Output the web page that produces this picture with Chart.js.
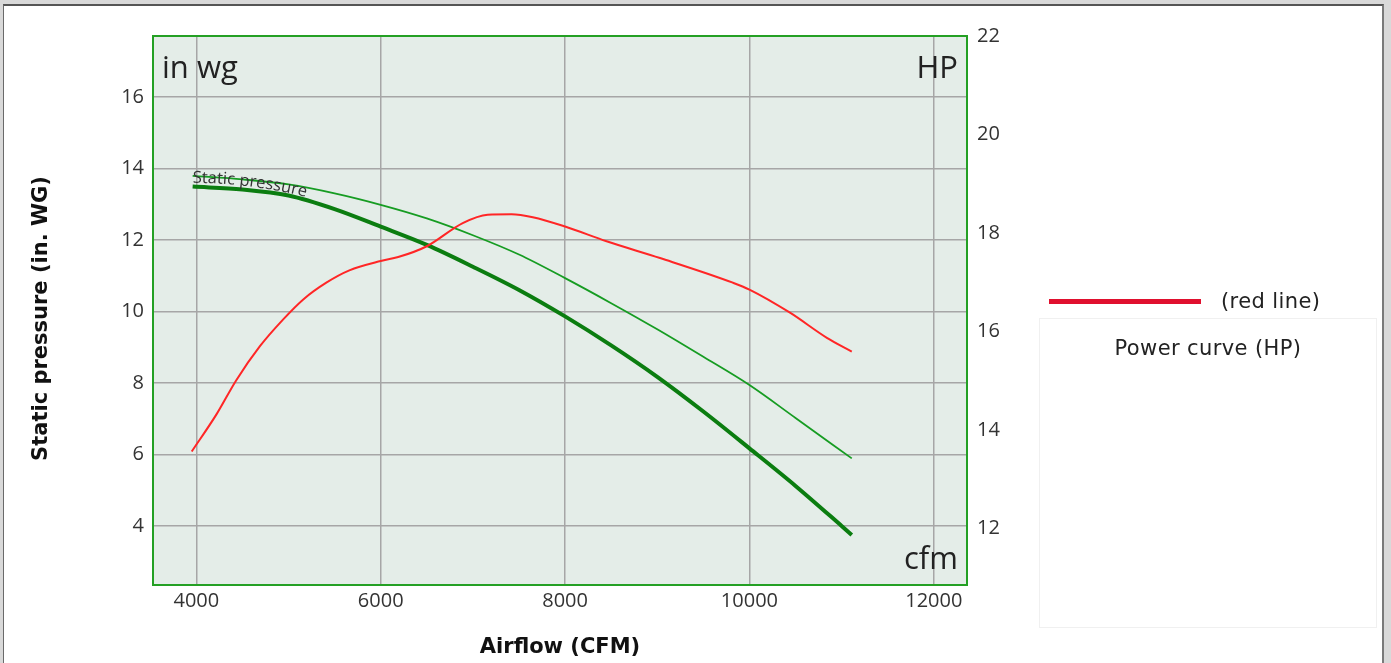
<!DOCTYPE html>
<html>
<head>
<meta charset="utf-8">
<script src="https://cdn.jsdelivr.net/npm/chart.js@4/dist/chart.umd.min.js"></script>
<style>
  html, body { margin:0; padding:0; background:#d9d9d9; overflow:hidden; width:1391px; height:663px; }
  #panel { position:absolute; left:3px; top:4px; width:1378px; height:700px; background:#fff;
           border-left:1px solid #6a6a6a; border-top:2px solid #555; border-right:2px solid #7a7a7a; }
  #wrap { position:absolute; left:0; top:0; width:1391px; height:663px; }
  .lg-line { position:absolute; left:1049px; top:299px; width:152px; height:5px; background:#e0102e; }
  .lg-text { position:absolute; left:1221px; top:289px; font:21px 'DejaVu Sans', sans-serif; letter-spacing:0.4px; color:#222; line-height:24px; white-space:nowrap; }
  .lg-box { position:absolute; left:1039px; top:318px; width:338px; height:310px; border:1px solid #f0f0f0;
            box-sizing:border-box; text-align:center; padding-top:17px; font:21px 'DejaVu Sans', sans-serif; letter-spacing:0.4px; color:#222; line-height:24px; }
</style>
</head>
<body>
<div id="panel"></div>
<div id="wrap"><canvas id="c" width="1391" height="663"></canvas></div>
<div class="lg-line"></div>
<div class="lg-text">(red line)</div>
<div class="lg-box">Power curve (HP)</div>
<script>
// ---- data ----
const thickCfm = [3960, 4500, 5000, 5500, 6000, 6500, 7000, 7500, 8000, 8500, 9000, 9500, 10000, 10500, 11000, 11110];
const thickPressure = [13.49, 13.41, 13.24, 12.86, 12.37, 11.86, 11.25, 10.60, 9.86, 9.05, 8.17, 7.20, 6.17, 5.12, 4.00, 3.75];

const thinCfm = [3960, 4500, 5000, 5500, 6000, 6500, 7000, 7500, 8000, 8500, 9000, 9500, 10000, 10500, 11110];
const thinPressure = [13.79, 13.69, 13.55, 13.30, 12.98, 12.60, 12.13, 11.59, 10.93, 10.23, 9.50, 8.73, 7.94, 7.02, 5.89];

const powerCfm = [3950, 4220, 4430, 4690, 4940, 5160, 5410, 5660, 6000, 6190, 6500, 6890, 7160, 7420, 7650, 8000, 8450, 9030, 9820, 10000, 10440, 10840, 11110];
const powerHp = [13.56, 14.32, 15.00, 15.70, 16.24, 16.65, 16.99, 17.24, 17.43, 17.51, 17.73, 18.20, 18.37, 18.38, 18.32, 18.13, 17.83, 17.49, 16.99, 16.85, 16.38, 15.87, 15.59];

const xTicks = [4000, 6000, 8000, 10000, 12000];
const leftTicks = [4, 6, 8, 10, 12, 14, 16];
const rightTicks = [12, 14, 16, 18, 20, 22];

const xTitle = 'Airflow (CFM)';
const yTitle = 'Static pressure (in. WG)';
const curveLabel = 'Static pressure';
const unitLeft = 'in wg', unitRight = 'HP', unitX = 'cfm';

const pts = (xs, ys) => xs.map((x, i) => ({ x, y: ys[i] }));

const tickFont = { family: "'Open Sans', 'Noto Sans', sans-serif", size: 20 };

const decor = {
  id: 'decor',
  beforeDraw(chart) {
    const { ctx, chartArea: a } = chart;
    ctx.save();
    ctx.fillStyle = '#e4ede8';
    ctx.fillRect(a.left, a.top, a.right - a.left, a.bottom - a.top);
    ctx.restore();
  },
  afterDatasetsDraw(chart) {
    const { ctx, chartArea: a, scales } = chart;
    ctx.save();
    ctx.fillStyle = '#222';
    ctx.font = "31px 'Open Sans', 'Noto Sans', sans-serif";
    ctx.textBaseline = 'alphabetic';
    ctx.textAlign = 'left';
    ctx.fillText(unitLeft, a.left + 9, a.top + 42);
    ctx.textAlign = 'right';
    ctx.fillText(unitRight, a.right - 9, a.top + 42);
    ctx.fillText(unitX, a.right - 9, a.bottom - 16);

    // curve label following the upper curve
    ctx.font = "16.5px 'Open Sans', 'Noto Sans', sans-serif";
    ctx.fillStyle = '#333';
    ctx.textAlign = 'left';
    const x0 = scales.x.getPixelForValue(thinCfm[0]);
    const y0 = scales.y.getPixelForValue(thinPressure[0]) + 7;
    let dx = 0;
    for (const ch of curveLabel) {
      const w = ctx.measureText(ch).width;
      const ang = Math.atan(0.0022 * (dx + w / 2));
      ctx.save();
      ctx.translate(x0 + dx, y0 + 0.0011 * dx * dx);
      ctx.rotate(ang);
      ctx.fillText(ch, 0, 0);
      ctx.restore();
      dx += w * Math.cos(ang);
    }
    ctx.restore();
  },
  afterDraw(chart) {
    const { ctx, chartArea: a } = chart;
    ctx.save();
    ctx.strokeStyle = '#24a024';
    ctx.lineWidth = 2;
    ctx.strokeRect(a.left, a.top, a.right - a.left, a.bottom - a.top);
    ctx.fillStyle = '#111';
    ctx.font = "bold 21px 'DejaVu Sans', sans-serif";
    ctx.textAlign = 'center';
    ctx.textBaseline = 'middle';
    ctx.fillText(xTitle, (a.left + a.right) / 2, a.bottom + 63);
    ctx.translate(42, (a.top + a.bottom) / 2 + 8);
    ctx.rotate(-Math.PI / 2);
    ctx.fillText(yTitle, 0, 0);
    ctx.restore();
  }
};

new Chart(document.getElementById('c'), {
  type: 'line',
  data: {
    datasets: [
      { label: 'Power curve (HP)', data: pts(powerCfm, powerHp), yAxisID: 'y1',
        borderColor: '#ff2626', borderWidth: 2, pointRadius: 0, cubicInterpolationMode: 'monotone', fill: false },
      { label: 'Static pressure (upper)', data: pts(thinCfm, thinPressure), yAxisID: 'y',
        borderColor: '#169c22', borderWidth: 1.8, pointRadius: 0, cubicInterpolationMode: 'monotone', fill: false },
      { label: 'Static pressure', data: pts(thickCfm, thickPressure), yAxisID: 'y',
        borderColor: '#0b7d10', borderWidth: 4, pointRadius: 0, cubicInterpolationMode: 'monotone', fill: false }
    ]
  },
  options: {
    responsive: false,
    animation: false,
    devicePixelRatio: 1,
    layout: { padding: { top: 36, left: 0, right: 0, bottom: 0 } },
    plugins: { legend: { display: false }, tooltip: { enabled: false } },
    scales: {
      x: {
        type: 'linear', min: 3530, max: 12360,
        afterBuildTicks: s => { s.ticks = xTicks.map(v => ({ value: v })); },
        afterFit: s => { s.height = 78; },
        ticks: { font: tickFont, color: '#333', padding: 4, maxRotation: 0, callback: v => String(v) },
        grid: { color: '#a6a6a6', lineWidth: 1.5, drawTicks: false },
        border: { display: false }
      },
      y: {
        position: 'left', min: 2.35, max: 17.7,
        afterBuildTicks: s => { s.ticks = leftTicks.map(v => ({ value: v })); },
        afterFit: s => { s.width = 153; },
        ticks: { font: tickFont, color: '#333', padding: 9, callback: v => String(v) },
        grid: { color: '#a6a6a6', lineWidth: 1.5, drawTicks: false },
        border: { display: false }
      },
      y1: {
        position: 'right', min: 10.85, max: 22,
        afterBuildTicks: s => { s.ticks = rightTicks.map(v => ({ value: v })); },
        afterFit: s => { s.width = 424; },
        ticks: { font: tickFont, color: '#333', padding: 10, callback: v => String(v) },
        grid: { display: false, drawTicks: false },
        border: { display: false }
      }
    }
  },
  plugins: [decor]
});
</script>
</body>
</html>
